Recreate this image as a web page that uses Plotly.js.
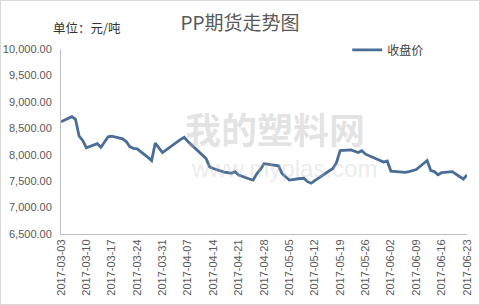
<!DOCTYPE html>
<html>
<head>
<meta charset="utf-8">
<script src="https://cdn.plot.ly/plotly-3.0.1.min.js"></script>
<style>
html,body{margin:0;padding:0;background:#fff;}
#chart{width:480px;height:305px;box-sizing:border-box;border:1px solid #d9d9d9;}
</style>
</head>
<body>
<div id="chart"></div>
<script>
const dates = [
 '2017-03-03','2017-03-06','2017-03-07','2017-03-08','2017-03-09','2017-03-10',
 '2017-03-13','2017-03-14','2017-03-15','2017-03-16','2017-03-17',
 '2017-03-20','2017-03-21','2017-03-22','2017-03-23','2017-03-24',
 '2017-03-27','2017-03-28','2017-03-29','2017-03-30','2017-03-31',
 '2017-04-05','2017-04-06','2017-04-07',
 '2017-04-10','2017-04-11','2017-04-12','2017-04-13','2017-04-14',
 '2017-04-17','2017-04-18','2017-04-19','2017-04-20','2017-04-21',
 '2017-04-24','2017-04-25','2017-04-26','2017-04-27','2017-04-28',
 '2017-05-02','2017-05-03','2017-05-04','2017-05-05',
 '2017-05-08','2017-05-09','2017-05-10','2017-05-11','2017-05-12',
 '2017-05-15','2017-05-16','2017-05-17','2017-05-18','2017-05-19',
 '2017-05-22','2017-05-23','2017-05-24','2017-05-25','2017-05-26',
 '2017-05-31','2017-06-01','2017-06-02',
 '2017-06-05','2017-06-06','2017-06-07','2017-06-08','2017-06-09',
 '2017-06-12','2017-06-13','2017-06-14','2017-06-15','2017-06-16',
 '2017-06-19','2017-06-20','2017-06-21','2017-06-22','2017-06-23'
];
const closePrice = [
 8625, 8720, 8670, 8350, 8270, 8130,
 8210, 8140, 8240, 8340, 8350,
 8300, 8250, 8150, 8120, 8110,
 7950, 7890, 8220, 8130, 8040,
 8290, 8330, 8250,
 8060, 8010, 7930, 7770, 7740,
 7670, 7665, 7650, 7680, 7615,
 7540, 7520, 7640, 7720, 7830,
 7790, 7640, 7580, 7520,
 7550, 7555, 7490, 7460, 7510,
 7650, 7710, 7740, 7850, 8080,
 8090, 8060, 8040, 8075, 8010,
 7860, 7880, 7690,
 7665, 7665, 7680, 7700, 7720,
 7890, 7700, 7680, 7620, 7660,
 7680, 7630, 7590, 7540, 7620
];
const tickDates = ['2017-03-03','2017-03-10','2017-03-17','2017-03-24','2017-03-31','2017-04-07',
 '2017-04-14','2017-04-21','2017-04-28','2017-05-05','2017-05-12','2017-05-19','2017-05-26',
 '2017-06-02','2017-06-09','2017-06-16','2017-06-23'];
const yTicks = [6500,7000,7500,8000,8500,9000,9500,10000];
const seriesName = '收盘价';
const chartTitle = 'PP期货走势图';
const unitLabel = '单位：元/吨';

const font = "'Microsoft YaHei','Noto Sans CJK SC','DejaVu Sans',sans-serif";

const trace = {
  x: dates, y: closePrice, type: 'scatter', mode: 'lines', name: seriesName,
  line: {color: '#4a6d95', width: 2.8}
};

const layout = {
  width: 478, height: 303,
  margin: {l: 60, r: 12, t: 48, b: 70},
  paper_bgcolor: '#fff', plot_bgcolor: 'rgba(0,0,0,0)',
  title: {text: chartTitle, x: 0.5, xref: 'container', xanchor: 'center', y: 0.925, yanchor: 'middle',
          font: {family: font, size: 19, color: '#595959'}},
  font: {family: font},
  showlegend: true,
  legend: {x: 0.705, y: 0.995, xanchor: 'left', yanchor: 'middle', bgcolor: 'rgba(0,0,0,0)',
           font: {family: font, size: 12, color: '#404040'}, itemwidth: 30},
  xaxis: {
    type: 'date', range: ['2017-03-03', '2017-06-23'],
    tickvals: tickDates, ticktext: tickDates, tickangle: -90,
    tickfont: {family: "'Liberation Sans','DejaVu Sans',sans-serif", size: 11, color: '#595959'},
    showgrid: false, zeroline: false, showline: true, linecolor: '#bfbfbf', linewidth: 1,
    ticks: '', fixedrange: true
  },
  yaxis: {
    range: [6500, 10000], tickvals: yTicks, tickformat: ',.2f',
    tickfont: {family: "'Liberation Sans','DejaVu Sans',sans-serif", size: 11, color: '#595959'},
    showgrid: false, zeroline: false, showline: true, linecolor: '#bfbfbf', linewidth: 1,
    ticks: '', ticklabelstandoff: 6, fixedrange: true
  },
  annotations: [
    {text: unitLabel, xref: 'paper', yref: 'paper', x: -0.025, y: 1.115, xanchor: 'left', yanchor: 'middle',
     showarrow: false, font: {family: font, size: 12.5, color: '#333'}},
    {text: '<b>我的塑料网</b>', xref: 'paper', yref: 'paper', x: 0.527, y: 0.575, xanchor: 'center', yanchor: 'middle',
     showarrow: false, font: {family: font, size: 36, color: 'rgba(175,175,175,0.35)'}},
    {text: 'www.myplas.com', xref: 'paper', yref: 'paper', x: 0.55, y: 0.355, xanchor: 'center', yanchor: 'middle',
     showarrow: false, font: {family: "'Liberation Sans',sans-serif", size: 24, color: 'rgba(190,190,190,0.3)'}}
  ]
};

Plotly.newPlot('chart', [trace], layout, {displayModeBar: false, staticPlot: true});
</script>
</body>
</html>
